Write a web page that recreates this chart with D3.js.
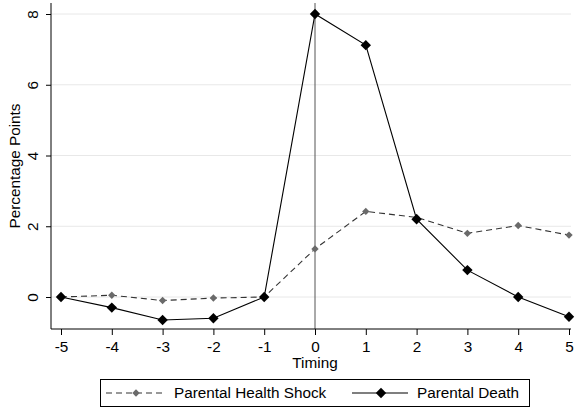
<!DOCTYPE html>
<html><head><meta charset="utf-8">
<script src="https://cdn.jsdelivr.net/npm/d3@7"></script>
<style>body{margin:0;background:#fff}svg{display:block}text{font-family:"Liberation Sans",Arial,sans-serif}</style>
</head><body><svg id="c" width="576" height="412"></svg>
<script>
const timing = [-5,-4,-3,-2,-1,0,1,2,3,4,5];
const healthShock = [0,0.05,-0.1,-0.03,0,1.36,2.42,2.25,1.8,2.02,1.75];
const death = [0,-0.3,-0.65,-0.6,0,8.0,7.12,2.2,0.76,0,-0.56];
const yTicks = [0,2,4,6,8];
const seriesNames = ["Parental Health Shock","Parental Death"];

(function(){
const FS = 15.3;
const svg = d3.select("#c");
const x = d3.scaleLinear().domain([-5,5]).range([61,569]);
const y = d3.scaleLinear().domain([0,8]).range([297,14]);
const pL = 51, pR = 571, pT = 3, pB = 329;

// gridlines
svg.append("g").selectAll("line").data(yTicks).join("line")
  .attr("x1",pL).attr("x2",pR).attr("y1",d=>y(d)).attr("y2",d=>y(d))
  .attr("stroke","#e8e8e8").attr("stroke-width",1);

// vertical line at 0
svg.append("line").attr("x1",x(0)).attr("x2",x(0)).attr("y1",pT).attr("y2",pB)
  .attr("stroke","#555").attr("stroke-width",1);

// y axis
const ya = svg.append("g").attr("transform",`translate(${pL},0)`)
  .call(d3.axisLeft(y).tickValues(yTicks).tickSize(5).tickSizeOuter(0));
ya.select(".domain").remove();
svg.append("line").attr("x1",pL).attr("x2",pL).attr("y1",pT).attr("y2",pB).attr("stroke","#000");
ya.selectAll(".tick line").attr("stroke","#000");
ya.selectAll(".tick text").attr("font-size",FS).attr("fill","#000")
  .attr("text-anchor","middle").attr("x",0).attr("y",0).attr("dy","0")
  .attr("transform","translate(-13,0) rotate(-90)");

// x axis
const xa = svg.append("g").attr("transform",`translate(0,${pB})`)
  .call(d3.axisBottom(x).tickValues(timing).tickSize(6).tickSizeOuter(0).tickFormat(d3.format("d")));
xa.select(".domain").remove();
svg.append("line").attr("x1",pL).attr("x2",pR).attr("y1",pB).attr("y2",pB).attr("stroke","#000");
xa.selectAll(".tick line").attr("stroke","#000");
xa.selectAll(".tick text").attr("font-size",FS).attr("fill","#000").attr("y",23).attr("dy","0")
  .text(d=> d<0 ? "-"+Math.abs(d) : d);

// axis titles
svg.append("text").attr("x",315).attr("y",368).attr("text-anchor","middle").attr("font-size",FS).text("Timing");
svg.append("text").attr("transform","translate(20,166) rotate(-90)").attr("text-anchor","middle").attr("font-size",FS).text("Percentage Points");

function dpath(s){ return `M0,${-s}L${s},0L0,${s}L${-s},0Z`; }

const line = d3.line().x((d,i)=>x(timing[i])).y(d=>y(d));
// health shock
svg.append("path").datum(healthShock).attr("d",line).attr("fill","none")
  .attr("stroke","#333").attr("stroke-width",1.1).attr("stroke-dasharray","6,4");
svg.append("g").selectAll("path").data(healthShock).join("path")
  .attr("d",dpath(3.7)).attr("transform",(d,i)=>`translate(${x(timing[i])},${y(d)})`).attr("fill","#6a6a6a");

// death
svg.append("path").datum(death).attr("d",line).attr("fill","none")
  .attr("stroke","#000").attr("stroke-width",1.1);
svg.append("g").selectAll("path").data(death).join("path")
  .attr("d",dpath(5.2)).attr("transform",(d,i)=>`translate(${x(timing[i])},${y(d)})`).attr("fill","#000");

// legend
const lg = svg.append("g");
lg.append("rect").attr("x",100.5).attr("y",379.5).attr("width",429).attr("height",27).attr("fill","#fff").attr("stroke","#000");
lg.append("line").attr("x1",106).attr("x2",164).attr("y1",393).attr("y2",393).attr("stroke","#333").attr("stroke-dasharray","6,4").attr("stroke-width",1.1);
lg.append("path").attr("d",dpath(3.7)).attr("transform","translate(136,393)").attr("fill","#6a6a6a");
lg.append("text").attr("x",174).attr("y",398).attr("font-size",FS).text(seriesNames[0]);
lg.append("line").attr("x1",352).attr("x2",408).attr("y1",393).attr("y2",393).attr("stroke","#000").attr("stroke-width",1.1);
lg.append("path").attr("d",dpath(5.2)).attr("transform","translate(381,393)").attr("fill","#000");
lg.append("text").attr("x",417).attr("y",398).attr("font-size",FS).text(seriesNames[1]);
})();
</script></body></html>
